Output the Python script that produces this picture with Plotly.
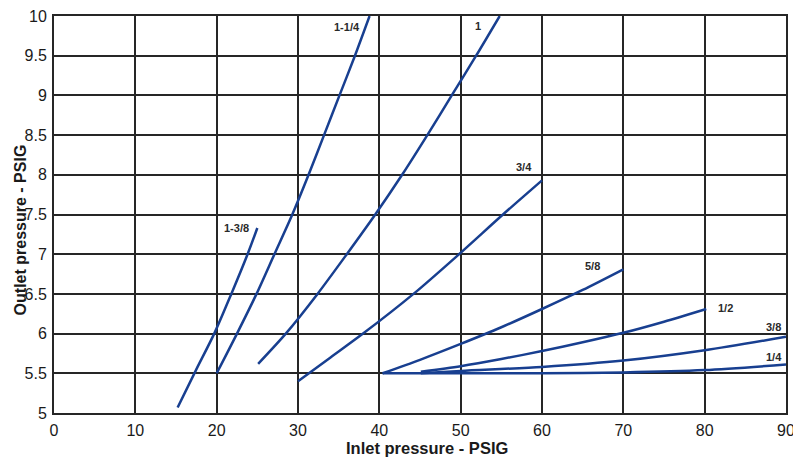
import plotly.graph_objects as go

# Data (inlet pressure PSIG -> outlet pressure PSIG)
s_1_3_8_x = [15.2, 17.5, 19.7, 21.8, 23.8, 25.0]
s_1_3_8_y = [5.07, 5.55, 6.0, 6.5, 7.0, 7.33]

s_1_1_4_x = [20.0, 22.5, 24.9, 27.1, 29.3, 31.3, 33.2, 35.1, 37.0, 38.8]
s_1_1_4_y = [5.5, 6.0, 6.5, 7.0, 7.5, 8.0, 8.5, 9.0, 9.5, 10.0]

s_1_x = [25.1, 28.5, 32.4, 36.0, 39.5, 42.8, 45.9, 48.9, 51.9, 54.8]
s_1_y = [5.62, 6.0, 6.5, 7.0, 7.5, 8.0, 8.5, 9.0, 9.5, 10.0]

s_3_4_x = [30.0, 34.0, 38.0, 44.2, 49.8, 55.2, 60.0]
s_3_4_y = [5.4, 5.7, 6.0, 6.5, 7.0, 7.5, 7.93]

s_5_8_x = [40.4, 45.0, 50.0, 55.0, 60.0, 65.0, 70.0]
s_5_8_y = [5.5, 5.67, 5.87, 6.08, 6.31, 6.55, 6.81]

s_1_2_x = [45.1, 50.0, 55.0, 60.0, 65.0, 70.0, 75.0, 80.2]
s_1_2_y = [5.52, 5.59, 5.68, 5.78, 5.89, 6.01, 6.15, 6.31]

s_3_8_x = [45.1, 50.0, 60.0, 70.0, 80.0, 90.0]
s_3_8_y = [5.5, 5.53, 5.58, 5.66, 5.79, 5.96]

s_1_4_x = [40.4, 50.0, 60.0, 70.0, 80.0, 90.0]
s_1_4_y = [5.5, 5.5, 5.5, 5.51, 5.54, 5.61]

series_names = ["1-3/8", "1-1/4", "1", "3/4", "5/8", "1/2", "3/8", "1/4"]
series_x = [s_1_3_8_x, s_1_1_4_x, s_1_x, s_3_4_x, s_5_8_x, s_1_2_x, s_3_8_x, s_1_4_x]
series_y = [s_1_3_8_y, s_1_1_4_y, s_1_y, s_3_4_y, s_5_8_y, s_1_2_y, s_3_8_y, s_1_4_y]

# Curve label placement (data coordinates)
label_x = [22.4, 36.0, 52.1, 57.8, 66.2, 82.5, 88.5, 88.5]
label_y = [7.33, 9.86, 9.87, 8.10, 6.85, 6.32, 6.08, 5.71]

x_ticks = [0, 10, 20, 30, 40, 50, 60, 70, 80, 90]
y_ticks = [5, 5.5, 6, 6.5, 7, 7.5, 8, 8.5, 9, 9.5, 10]

x_title = "Inlet pressure - PSIG"
y_title = "Outlet pressure - PSIG"

LINE_COLOR = "#183f90"
GRID_COLOR = "#262626"
FONT = "Liberation Sans, Arial, sans-serif"

fig = go.Figure()
for name, xs, ys in zip(series_names, series_x, series_y):
    fig.add_trace(go.Scatter(x=xs, y=ys, mode="lines", name=name,
                             line=dict(color=LINE_COLOR, width=2.5, shape="spline", smoothing=0.8),
                             showlegend=False, hoverinfo="skip"))

for name, lx, ly in zip(series_names, label_x, label_y):
    fig.add_annotation(x=lx, y=ly, text="<b>" + name + "</b>", showarrow=False,
                       font=dict(family=FONT, size=11, color="#2a2a2a"))

# Axis titles as paper annotations for exact placement
fig.add_annotation(xref="paper", yref="paper", x=0.509, y=0, yanchor="middle",
                   yshift=-35, text="<b>" + x_title + "</b>", showarrow=False,
                   font=dict(family=FONT, size=16.5, color="#1a1a1a"))
fig.add_annotation(xref="paper", yref="paper", x=0, y=0.46, xanchor="center",
                   xshift=-34, textangle=-90, text="<b>" + y_title + "</b>", showarrow=False,
                   font=dict(family=FONT, size=16, color="#1a1a1a"))

# The page body has an 8px margin, so the figure is sized to fit the remaining viewport
fig.update_layout(
    width=793, height=453,
    margin=dict(l=46, r=15, t=8, b=48),
    paper_bgcolor="white", plot_bgcolor="white",
    font=dict(family=FONT, color="#1a1a1a"),
)
fig.update_xaxes(
    range=[0, 90], tickvals=x_ticks, ticktext=[str(v) for v in x_ticks],
    showgrid=True, gridcolor=GRID_COLOR, gridwidth=2,
    showline=True, linecolor=GRID_COLOR, linewidth=2, mirror=True,
    zeroline=False, ticks="", ticklen=0, ticklabelstandoff=2, automargin=False,
    ticklabeloverflow="allow",
    tickfont=dict(family=FONT, size=16, color="#1a1a1a"),
)
fig.update_yaxes(
    range=[5, 10], tickvals=y_ticks, ticktext=[f"{v:g}" for v in y_ticks],
    showgrid=True, gridcolor=GRID_COLOR, gridwidth=2,
    showline=True, linecolor=GRID_COLOR, linewidth=2, mirror=True,
    zeroline=False, ticks="", ticklen=0, ticklabelstandoff=2, automargin=False,
    ticklabeloverflow="allow",
    tickfont=dict(family=FONT, size=16, color="#1a1a1a"),
)

fig.write_html("out.html")
